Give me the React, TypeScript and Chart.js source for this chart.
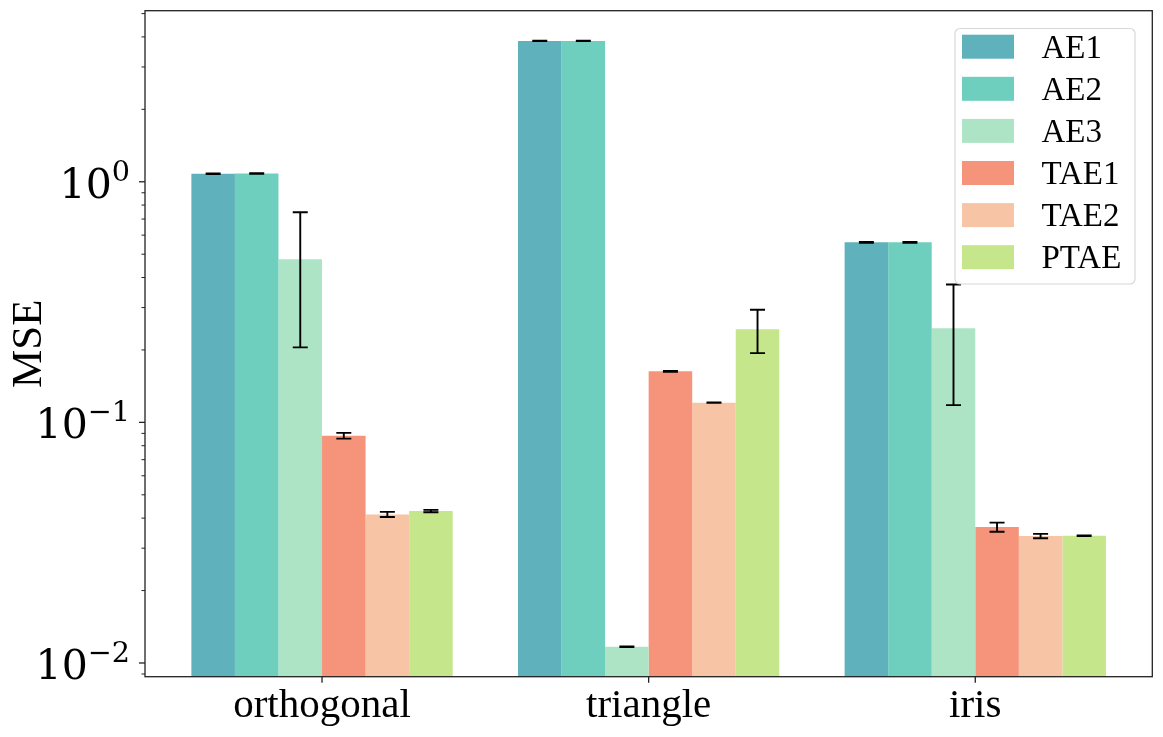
import React, { useEffect, useRef } from 'react';
import { Chart, registerables } from 'chart.js';
Chart.register(...registerables);

const categories = ['orthogonal', 'triangle', 'iris'];
const seriesNames = ['AE1', 'AE2', 'AE3', 'TAE1', 'TAE2', 'PTAE'];
const seriesColors = ['#5FB1BB', '#6FCFBE', '#AEE4C6', '#F5947A', '#F8C4A6', '#C5E68A'];

const ae1 = [1.08, 3.85, 0.56];
const ae2 = [1.083, 3.85, 0.56];
const ae3 = [0.476, 0.01168, 0.246];
const tae1 = [0.088, 0.163, 0.0367];
const tae2 = [0.04145, 0.1207, 0.03369];
const ptae = [0.04279, 0.244, 0.0338];

const ae1Err = [0.003, 0.008, 0.002];
const ae2Err = [0.003, 0.008, 0.002];
const ae3Err = [0.271, 0.00004, 0.128];
const tae1Err = [0.0024, 0.0006, 0.0016];
const tae2Err = [0.001, 0.0002, 0.0007];
const ptaeErr = [0.0005, 0.05, 0.0001];

const seriesValues = [ae1, ae2, ae3, tae1, tae2, ptae];
const seriesErrors = [ae1Err, ae2Err, ae3Err, tae1Err, tae2Err, ptaeErr];

const yMin = 0.00877;
const yMax = 5.14;
const xMin = -0.542;
const xMax = 2.542;
const yTickValues = [0.01, 0.1, 1];
const yTickBase = ['10', '10', '10'];
const yTickExp = ['\u22122', '\u22121', '0'];
const yAxisTitle = 'MSE';

const FONT = '"Liberation Serif", "Times New Roman", serif';
const MATHFONT = '"DejaVu Serif", serif';

const decorPlugin = {
  id: 'decor',
  afterDatasetsDraw(chart: any) {
    const ctx = chart.ctx;
    const ys = chart.scales.y;
    const xs = chart.scales.x;
    const area = chart.chartArea;
    ctx.save();
    // error bars
    ctx.strokeStyle = '#000';
    ctx.lineWidth = 1.9;
    chart.data.datasets.forEach((ds: any, di: number) => {
      const meta = chart.getDatasetMeta(di);
      const errs = seriesErrors[di];
      meta.data.forEach((el: any, j: number) => {
        const v = seriesValues[di][j];
        const e = errs[j];
        const x = el.x;
        const yt = ys.getPixelForValue(v + e);
        const yb = ys.getPixelForValue(Math.max(v - e, 1e-9));
        ctx.beginPath();
        ctx.moveTo(x, yt);
        ctx.lineTo(x, yb);
        ctx.moveTo(x - 7.5, yt);
        ctx.lineTo(x + 7.5, yt);
        ctx.moveTo(x - 7.5, yb);
        ctx.lineTo(x + 7.5, yb);
        ctx.stroke();
      });
    });
    // frame
    ctx.strokeStyle = '#222';
    ctx.lineWidth = 1.3;
    ctx.strokeRect(area.left, area.top, area.right - area.left, area.bottom - area.top);
    // y tick marks
    for (let n = -3; n <= 1; n++) {
      for (let m = 1; m <= 9; m++) {
        const v = m * Math.pow(10, n);
        if (v < yMin || v > yMax) continue;
        const y = ys.getPixelForValue(v);
        const major = m === 1;
        ctx.lineWidth = major ? 1.3 : 1;
        ctx.beginPath();
        ctx.moveTo(area.left, y);
        ctx.lineTo(area.left - (major ? 6 : 3.5), y);
        ctx.stroke();
      }
    }
    // x tick marks and labels
    ctx.lineWidth = 1.3;
    ctx.fillStyle = '#000';
    ctx.font = `41px ${FONT}`;
    ctx.textAlign = 'center';
    ctx.textBaseline = 'alphabetic';
    categories.forEach((c, i) => {
      const x = xs.getPixelForValue(i);
      ctx.beginPath();
      ctx.moveTo(x, area.bottom);
      ctx.lineTo(x, area.bottom + 6);
      ctx.stroke();
      ctx.fillText(c, x, 716.5);
    });
    // y tick labels
    yTickValues.forEach((v, i) => {
      const y = ys.getPixelForValue(v);
      ctx.font = `28.7px ${MATHFONT}`;
      const expW = ctx.measureText(yTickExp[i]).width;
      const right = area.left - 15;
      ctx.textAlign = 'left';
      ctx.fillText(yTickExp[i], right - expW, y - 1);
      ctx.font = `41px ${MATHFONT}`;
      ctx.textAlign = 'right';
      ctx.fillText(yTickBase[i], right - expW, y + 16);
    });
    // y title
    ctx.save();
    ctx.translate(41, (area.top + area.bottom) / 2);
    ctx.rotate(-Math.PI / 2);
    ctx.font = `43px ${FONT}`;
    ctx.textAlign = 'center';
    ctx.textBaseline = 'alphabetic';
    ctx.fillText(yAxisTitle, 0, 0);
    ctx.restore();
    ctx.restore();
  },
  afterDraw(chart: any) {
    const ctx = chart.ctx;
    ctx.save();
    const bx = 955, by = 28.5, bw = 180, bh = 255.5, r = 5;
    ctx.beginPath();
    ctx.moveTo(bx + r, by);
    ctx.arcTo(bx + bw, by, bx + bw, by + bh, r);
    ctx.arcTo(bx + bw, by + bh, bx, by + bh, r);
    ctx.arcTo(bx, by + bh, bx, by, r);
    ctx.arcTo(bx, by, bx + bw, by, r);
    ctx.closePath();
    ctx.fillStyle = 'rgba(255,255,255,0.8)';
    ctx.fill();
    ctx.strokeStyle = '#d8d8d8';
    ctx.lineWidth = 1.2;
    ctx.stroke();
    ctx.font = `33px ${FONT}`;
    ctx.textAlign = 'left';
    ctx.textBaseline = 'alphabetic';
    chart.data.datasets.forEach((ds: any, i: number) => {
      const cy = 46.7 + i * 42.1;
      ctx.fillStyle = ds.backgroundColor;
      ctx.fillRect(962, cy - 12, 52, 24);
      ctx.fillStyle = '#000';
      ctx.fillText(ds.label, 1041.5, cy + 11);
    });
    ctx.restore();
  },
};

export default function App() {
  const ref = useRef<HTMLCanvasElement | null>(null);
  useEffect(() => {
    document.body.style.margin = '0';
    const canvas = ref.current;
    if (!canvas) return;
    const datasets = seriesNames.map((name, i) => ({
      label: name,
      data: seriesValues[i].map((v, j) => ({ x: j, y: v })),
      backgroundColor: seriesColors[i],
      borderWidth: 0,
      categoryPercentage: 0.8,
      barPercentage: 1.0,
    }));
    const chart = new Chart(canvas, {
      type: 'bar',
      data: { datasets },
      options: {
        animation: false,
        responsive: false,
        devicePixelRatio: 1,
        layout: { padding: { top: 10.7, right: 10.7, left: 0, bottom: 0 } },
        plugins: { legend: { display: false }, tooltip: { enabled: false } },
        scales: {
          x: {
            type: 'linear',
            min: xMin,
            max: xMax,
            offset: false,
            grid: { display: false },
            border: { display: false },
            ticks: { display: false },
            afterBuildTicks: (s: any) => {
              s.ticks = categories.map((c, i) => ({ value: i }));
            },
            afterFit: (s: any) => { s.height = 60.3; },
          },
          y: {
            type: 'logarithmic',
            min: yMin,
            max: yMax,
            grid: { display: false },
            border: { display: false },
            ticks: { display: false },
            afterFit: (s: any) => { s.width = 145; },
          },
        },
      } as any,
      plugins: [decorPlugin],
    });
    return () => chart.destroy();
  }, []);
  return (
    <div style={{ width: 1163, height: 737, background: '#fff' }}>
      <canvas ref={ref} width={1163} height={737} style={{ width: 1163, height: 737, display: 'block' }} />
    </div>
  );
}
